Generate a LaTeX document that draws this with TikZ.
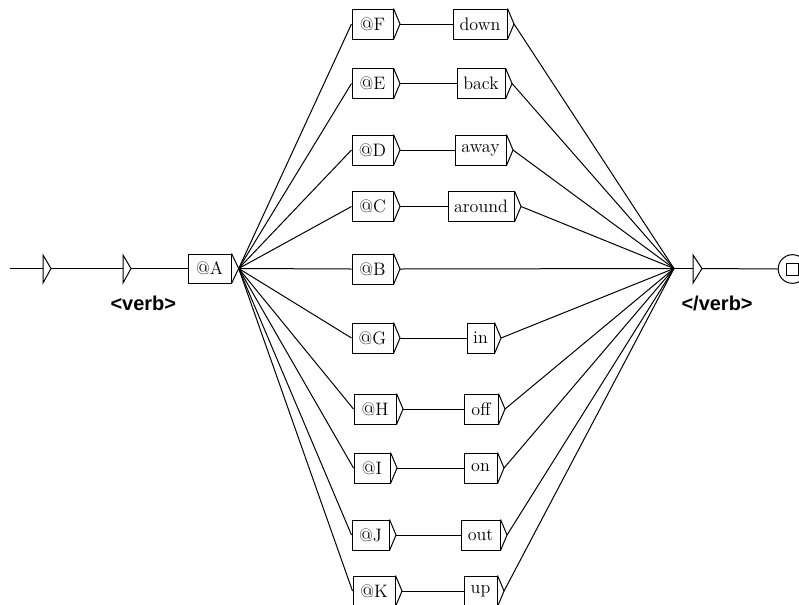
\documentclass[tikz,border=0pt]{standalone}
\usepackage{fontspec}
\newfontfamily\labfont{Liberation Sans}
\begin{document}
\begin{tikzpicture}[x=0.75pt,y=-0.75pt,line width=0.75pt,
  bx/.style={draw,rectangle,inner sep=0pt,minimum height=22.5pt,minimum width=#1*0.75pt,font=\fontsize{13.5}{15}\selectfont},
  lbl/.style={anchor=base west,inner sep=0pt,font=\labfont\bfseries\fontsize{15}{17}\selectfont}]
\useasboundingbox (0,0) rectangle (799,604);
\newcommand\tri[1]{\draw (#1.north east) -- ([xshift=4.9pt]#1.east) coordinate (#1t) -- (#1.south east);}
% initial part
\coordinate (s0) at (10,268.5);
\coordinate (t1a) at (43,255);
\coordinate (t1) at (43,268.5);
\coordinate (t1b) at (43,283);
\coordinate (t1tip) at (51,268.5);
\coordinate (t2a) at (123,255);
\coordinate (t2) at (123,268.5);
\coordinate (t2b) at (123,283);
\coordinate (t2tip) at (131,268.5);
\draw (t1a) -- (t1tip) -- (t1b) -- cycle;
\draw (t2a) -- (t2tip) -- (t2b) -- cycle;
\node[lbl] (verb) at (110,310) {<verb>};
\node[bx=43,minimum height=21.75pt] (A) at (209.5,268.5) {@A};
\draw (A.north east) -- ([xshift=5.4pt]A.east) coordinate (At) -- (A.south east);
\draw (s0) -- (t1);
\draw (t1tip) -- (t2);
\draw (t2tip) -- (A.west);
% column of @ boxes
\node[bx=41] (F) at (372.5,24) {@F};
\node[bx=54] (down) at (480,24) {down};
\node[bx=41] (E) at (372.5,83.5) {@E};
\node[bx=48] (back) at (481,83.5) {back};
\node[bx=41] (D) at (372.5,150) {@D};
\node[bx=51] (away) at (480.5,150) {away};
\node[bx=41] (C) at (372.5,206.5) {@C};
\node[bx=66] (around) at (481,206.5) {around};
\node[bx=41] (B) at (372.5,269) {@B};
\node[bx=41] (G) at (372.5,338) {@G};
\node[bx=27] (in) at (480.5,338) {in};
\node[bx=42] (H) at (375,409) {@H};
\node[bx=34] (off) at (481,409) {off};
\node[bx=36] (I) at (372,468) {@I};
\node[bx=33] (on) at (480.5,468) {on};
\node[bx=37] (J) at (370.5,535) {@J};
\node[bx=39] (out) at (480.5,535) {out};
\node[bx=42] (K) at (374,591) {@K};
\node[bx=33] (up) at (480.5,591) {up};
\foreach \n in {F,down,E,back,D,away,C,around,B,G,in,H,off,I,on,J,out,K,up}{\tri{\n}}
\coordinate (hub) at (674,268.5);
% fan from @A
\foreach \n in {F,E,D,C,B,G,H,I,J,K}{\draw (At) -- (\n.west);}
% middle links
\draw (Ft) -- (down.west);
\draw (Et) -- (back.west);
\draw (Dt) -- (away.west);
\draw (Ct) -- (around.west);
\draw (Gt) -- (in.west);
\draw (Ht) -- (off.west);
\draw (It) -- (on.west);
\draw (Jt) -- (out.west);
\draw (Kt) -- (up.west);
% into hub
\foreach \n in {down,back,away,around,B,in,off,on,out,up}{\draw (\n t) -- (hub);}
% final part
\coordinate (t3a) at (693,255);
\coordinate (t3) at (693,268.5);
\coordinate (t3b) at (693,283);
\coordinate (t3tip) at (702,268.5);
\draw (t3a) -- (t3tip) -- (t3b) -- cycle;
\draw (hub) -- (t3);
\node[lbl] (everb) at (681,310) {</verb>};
\node[draw,circle,minimum size=21.5pt,inner sep=0pt] (fin) at (792.5,269) {};
\node[draw,rectangle,minimum size=9pt,inner sep=0pt] (finsq) at (792.5,269) {};
\draw (t3tip) -- (fin.west);
\end{tikzpicture}
\end{document}
